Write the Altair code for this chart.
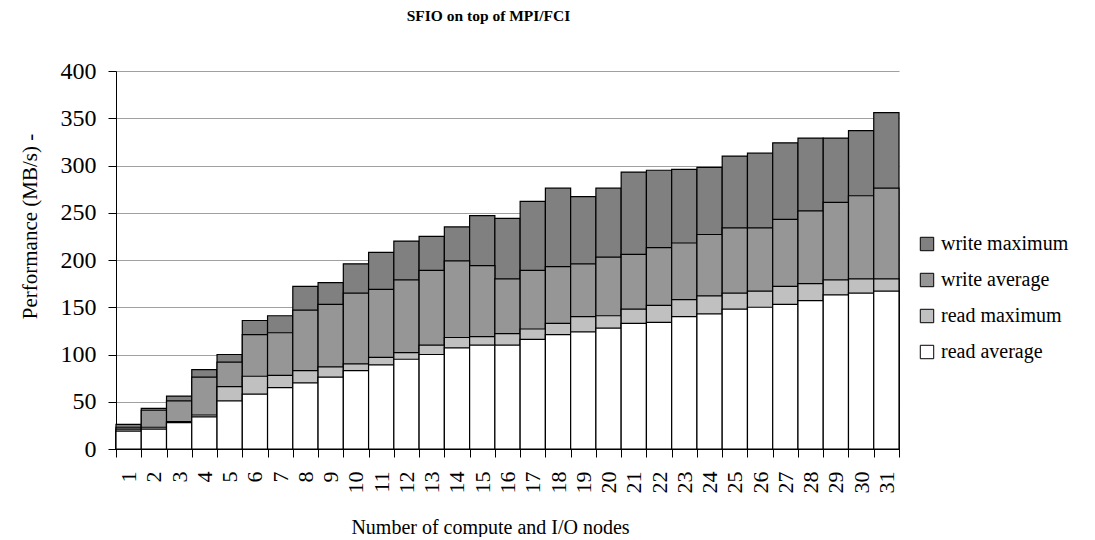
import altair as alt
import pandas as pd

nodes = [str(i) for i in range(1, 32)]
read_avg = [19, 21, 28, 34, 51, 58, 65, 70, 76, 83, 89, 95, 100, 107, 110, 110, 116, 121, 124, 128,
            133, 134, 140, 143, 148, 150, 153, 157, 163, 165, 167]
read_max = [21, 23, 29, 36, 66, 77, 78, 83, 87, 90, 97, 102, 110, 118, 119, 122, 127, 133, 140, 141,
            148, 152, 158, 162, 165, 167, 172, 175, 179, 180, 180]
write_avg = [23, 41, 51, 76, 92, 121, 123, 147, 153, 165, 169, 179, 189, 199, 194, 180, 189, 193, 196, 203,
             206, 213, 218, 227, 234, 234, 243, 252, 261, 268, 276]
write_max = [26, 43, 56, 84, 100, 136, 141, 172, 176, 196, 208, 220, 225, 235, 247, 244, 262, 276, 267, 276,
             293, 295, 296, 298, 310, 313, 324, 329, 329, 337, 356]

series_names = ["write maximum", "write average", "read maximum", "read average"]
series_vals = [write_max, write_avg, read_max, read_avg]
series_colors = ["#808080", "#969696", "#C0C0C0", "#FFFFFF"]

rows = []
for k, (name, vals) in enumerate(zip(series_names, series_vals)):
    for n, v in zip(nodes, vals):
        rows.append({"nodes": n, "value": v, "series": name, "draw": k})
df = pd.DataFrame(rows)

FONT = "Liberation Serif"

chart = alt.Chart(df).mark_bar(stroke="black", strokeWidth=1.2, opacity=1).encode(
    x=alt.X("nodes:N", sort=nodes,
            scale=alt.Scale(paddingInner=0, paddingOuter=0),
            axis=alt.Axis(title="Number of compute and I/O nodes", labelAngle=270,
                          labelFontSize=22, labelFont=FONT, labelColor="black",
                          labelPadding=14, tickSize=8, tickColor="black", tickBand="extent",
                          domainColor="black", grid=False,
                          titleFont=FONT, titleFontSize=20, titleFontWeight="normal",
                          titleColor="black", titleX=374, titleY=78,
                          titleAlign="center", titleBaseline="middle")),
    y=alt.Y("value:Q", stack=None,
            scale=alt.Scale(domain=[0, 400], nice=False),
            axis=alt.Axis(title="Performance (MB/s) -", values=list(range(0, 401, 50)),
                          labelFontSize=24, labelFont=FONT, labelColor="black",
                          labelPadding=12, tickSize=8, tickColor="black",
                          domainColor="black", grid=True, gridColor="#A0A0A0",
                          titleFont=FONT, titleFontSize=21, titleFontWeight="normal",
                          titleColor="black", titleX=-86, titleY=155, titleAngle=270,
                          titleAlign="center", titleBaseline="middle")),
    color=alt.Color("series:N",
                    scale=alt.Scale(domain=series_names, range=series_colors),
                    legend=alt.Legend(title=None, orient="none", legendX=801, legendY=163,
                                      symbolType="square", symbolSize=180,
                                      symbolStrokeColor="black", symbolStrokeWidth=1,
                                      labelFont=FONT, labelFontSize=20, labelColor="black",
                                      rowPadding=16, labelOffset=4)),
    order=alt.Order("draw:Q"),
).properties(
    width=783, height=378,
    padding={"left": 108, "top": 63, "right": 188, "bottom": 88},
    autosize=alt.AutoSizeParams(type="none"),
    title=alt.TitleParams("SFIO on top of MPI/FCI", font=FONT, fontSize=15.5, fontWeight="bold",
                          color="black", anchor="middle", dx=-19, offset=35),
).configure_view(stroke=None)

chart.save("out.html", embed_options={"renderer": "svg", "actions": False})
